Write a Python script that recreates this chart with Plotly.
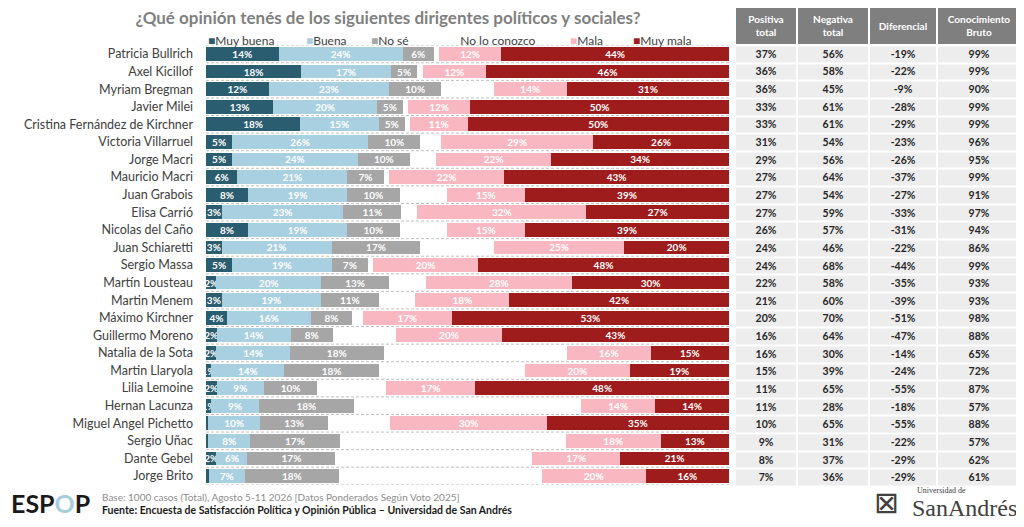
import plotly.graph_objects as go

# --- data ---
names = ["Patricia Bullrich", "Axel Kicillof", "Myriam Bregman", "Javier Milei",
         "Cristina Fernández de Kirchner", "Victoria Villarruel", "Jorge Macri",
         "Mauricio Macri", "Juan Grabois", "Elisa Carrió", "Nicolas del Caño",
         "Juan Schiaretti", "Sergio Massa", "Martín Lousteau", "Martin Menem",
         "Máximo Kirchner", "Guillermo Moreno", "Natalia de la Sota", "Martin Llaryola",
         "Lilia Lemoine", "Hernan Lacunza", "Miguel Angel Pichetto", "Sergio Uñac",
         "Dante Gebel", "Jorge Brito"]

muy_buena = [14, 18, 12, 13, 18, 5, 5, 6, 8, 3, 8, 3, 5, 2, 3, 4, 2, 2, 1, 2, 1, 0.4, 0.4, 2, 0.5]
buena = [24, 17, 23, 20, 15, 26, 24, 21, 19, 23, 19, 21, 19, 20, 19, 16, 14, 14, 14, 9, 9, 10, 8, 6, 7]
no_se = [6, 5, 10, 5, 5, 10, 10, 7, 10, 11, 10, 17, 7, 13, 11, 8, 8, 18, 18, 10, 18, 13, 17, 17, 18]
no_conozco = [1, 1, 10, 1, 1, 4, 5, 1, 9, 3, 9, 14, 1, 7, 7, 2, 12, 35, 28, 13, 43, 12, 43, 38, 39]
mala = [12, 12, 14, 12, 11, 29, 22, 22, 15, 32, 15, 25, 20, 28, 18, 17, 20, 16, 20, 17, 14, 30, 18, 17, 20]
muy_mala = [44, 46, 31, 50, 50, 26, 34, 43, 39, 27, 39, 20, 48, 30, 42, 53, 43, 15, 19, 48, 14, 35, 13, 21, 16]

positiva = [37, 36, 36, 33, 33, 31, 29, 27, 27, 27, 26, 24, 24, 22, 21, 20, 16, 16, 15, 11, 11, 10, 9, 8, 7]
negativa = [56, 58, 45, 61, 61, 54, 56, 64, 54, 59, 57, 46, 68, 58, 60, 70, 64, 30, 39, 65, 28, 65, 31, 37, 36]
diferencial = [-19, -22, -9, -28, -29, -23, -26, -37, -27, -33, -31, -22, -44, -35, -39, -51, -47,
               -14, -24, -55, -18, -55, -22, -29, -29]
conocimiento = [99, 99, 90, 99, 99, 96, 95, 99, 91, 97, 94, 86, 99, 93, 93, 98, 88, 65, 72, 87,
                57, 88, 57, 62, 61]

table_headers = ["<b>Positiva<br>total</b>", "<b>Negativa<br>total</b>",
                 "<b>Diferencial</b>", "<b>Conocimiento<br>Bruto</b>"]

series = [
    ("Muy buena", muy_buena, "#2b5d70"),
    ("Buena", buena, "#a9d0e0"),
    ("No sé", no_se, "#a6a6a6"),
    ("No lo conozco", no_conozco, "#ffffff"),
    ("Mala", mala, "#f9b8c1"),
    ("Muy mala", muy_mala, "#9e1c1c"),
]

# page body has an 8px margin, so the figure is drawn 8px in from the window corner
OFF = 8
W, H = 1024 - OFF, 527 - OFF
FONT = "Lato"


def px(x):
    return min(max((x - OFF) / W, 0), 1)


def py(y):
    return min(max(1 - (y - OFF) / H, 0), 1)


fig = go.Figure()
for label, vals, color in series:
    if label == "No lo conozco":
        txt = ["" for v in vals]
    else:
        txt = [f"{round(v)}%" if v >= 1 else "" for v in vals]
    fig.add_trace(go.Bar(
        y=names, x=vals, name=label, orientation="h",
        marker=dict(color=color, line=dict(width=0)),
        text=txt, textposition="inside", insidetextanchor="middle", textangle=0,
        textfont=dict(family=FONT, size=10, color="white", weight="bold"),
        hoverinfo="skip", showlegend=False,
    ))

# dashed separators between rows
for i in range(len(names) + 1):
    fig.add_shape(type="line", xref="x domain", yref="y", x0=0, x1=1, y0=i - 0.5, y1=i - 0.5,
                  line=dict(color="#bfbfbf", width=1, dash="3px,2px"), layer="below")

# manual legend (square + label)
legend_x = [206, 304, 369, 451, 568, 631]
for (label, vals, color), lx in zip(series, legend_x):
    fig.add_annotation(xref="paper", yref="paper", x=px(lx), y=py(40), xanchor="left",
                       yanchor="middle", showarrow=False,
                       text=f"<span style='color:{color}'>■</span>{label}",
                       font=dict(family=FONT, size=12, color="#404040"))

# side table: header + body drawn as heatmaps on their own axes
col_edges = [0, 62, 134, 201, 286]
body_text = [[f"<b>{v}%</b>" for v in (p, n, d, c)]
             for p, n, d, c in zip(positiva, negativa, diferencial, conocimiento)]
fig.add_trace(go.Heatmap(
    x=col_edges, y=names, z=[[0] * 4 for _ in names], text=body_text, texttemplate="%{text}",
    colorscale=[[0, "#ededed"], [1, "#ededed"]], showscale=False, xgap=2, ygap=2,
    textfont=dict(family=FONT, size=10.5, color="#262626"), hoverinfo="skip",
    xaxis="x2", yaxis="y2",
))
fig.add_trace(go.Heatmap(
    x=col_edges, y=["h"], z=[[0] * 4], text=[table_headers], texttemplate="%{text}",
    colorscale=[[0, "#7f7f7f"], [1, "#7f7f7f"]], showscale=False, xgap=2,
    textfont=dict(family=FONT, size=10, color="white"), hoverinfo="skip",
    xaxis="x3", yaxis="y3",
))

hidden = dict(visible=False, showgrid=False, zeroline=False, fixedrange=True)
fig.update_layout(
    width=W, height=H, margin=dict(l=0, r=0, t=0, b=0),
    paper_bgcolor="white", plot_bgcolor="white",
    barmode="stack", barnorm="percent", bargap=0.22,
    font=dict(family=FONT, color="#404040"),
    uniformtext=dict(minsize=10, mode="show"),
    showlegend=False,
    title=dict(text="<b>¿Qué opinión tenés de los siguientes dirigentes políticos y sociales?</b>",
               x=px(388), xanchor="center", y=py(18), yanchor="middle",
               font=dict(family=FONT, size=17, color="#7f7f7f")),
    xaxis=dict(domain=[px(206), px(729)], range=[0, 100], **hidden),
    yaxis=dict(domain=[py(484.8), py(45.2)], type="category", categoryorder="array",
               categoryarray=names, range=[len(names) - 0.5, -0.5], showgrid=False,
               showline=False, ticks="", automargin=False, ticklabelstandoff=12,
               fixedrange=True, tickfont=dict(family=FONT, size=12.5, color="#404040")),
    xaxis2=dict(domain=[px(735), px(1022)], range=[0, 286], anchor="y2", **hidden),
    yaxis2=dict(domain=[py(486.5), py(45.5)], type="category", categoryorder="array",
                categoryarray=names, range=[len(names) - 0.5, -0.5], anchor="x2", **hidden),
    xaxis3=dict(domain=[px(735), px(1022)], range=[0, 286], anchor="y3", **hidden),
    yaxis3=dict(domain=[py(44), py(2)], range=[-0.5, 0.5], anchor="x3", **hidden),
)

# footer
fig.add_annotation(xref="paper", yref="paper", x=px(9), y=py(503), xanchor="left",
                   yanchor="middle", showarrow=False,
                   text="<b>ESP<span style='color:#a9cddc'>O</span>P</b>",
                   font=dict(family=FONT, size=25, color="#1a1a1a"))
fig.add_annotation(xref="paper", yref="paper", x=px(100), y=py(497), xanchor="left",
                   yanchor="middle", showarrow=False,
                   text="Base: 1000 casos (Total), Agosto 5-11 2026 [Datos Ponderados Según Voto 2025]",
                   font=dict(family=FONT, size=10, color="#8c8c8c"))
fig.add_annotation(xref="paper", yref="paper", x=px(100), y=py(510), xanchor="left",
                   yanchor="middle", showarrow=False,
                   text="<b>Fuente: Encuesta de Satisfacción Política y Opinión Pública – Universidad de San Andrés</b>",
                   font=dict(family=FONT, size=10.5, color="#1a1a1a"))
fig.add_annotation(xref="paper", yref="paper", x=px(886), y=py(502), xanchor="center",
                   yanchor="middle", showarrow=False, text="⊠",
                   font=dict(family="DejaVu Sans", size=30, color="#404040"))
fig.add_annotation(xref="paper", yref="paper", x=px(915), y=py(490), xanchor="left",
                   yanchor="middle", showarrow=False, text="Universidad de",
                   font=dict(family="Liberation Serif", size=8, color="#404040"))
fig.add_annotation(xref="paper", yref="paper", x=px(1019), y=py(508), xanchor="right",
                   yanchor="middle", showarrow=False, text="SanAndrés",
                   font=dict(family="Liberation Serif", size=24, color="#404040"))

fig.write_html("out.html")
